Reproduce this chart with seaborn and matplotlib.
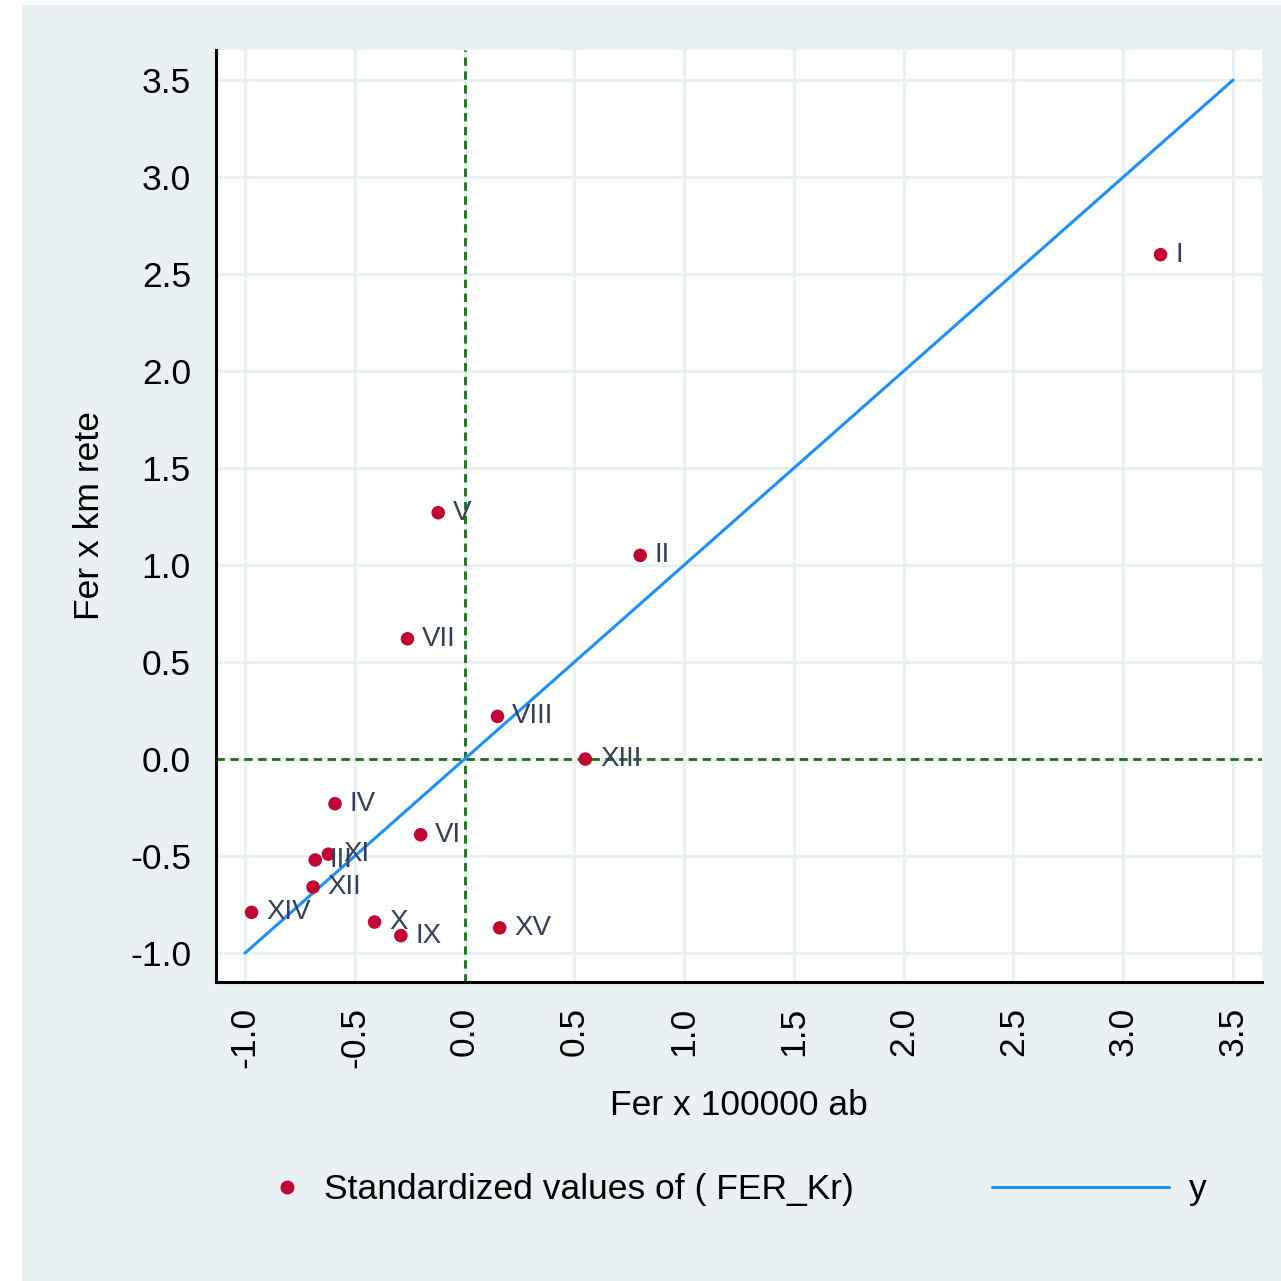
import pandas as pd
import matplotlib.pyplot as plt
import seaborn as sns
from matplotlib.patches import Rectangle
from matplotlib.lines import Line2D

# standardized values
labels = ["I", "II", "III", "IV", "V", "VI", "VII", "VIII", "IX", "X", "XI", "XII", "XIII", "XIV", "XV"]
fer_ab = [3.17, 0.80, -0.68, -0.59, -0.12, -0.20, -0.26, 0.15, -0.29, -0.41, -0.62, -0.69, 0.55, -0.97, 0.16]
fer_kr = [2.60, 1.05, -0.52, -0.23, 1.27, -0.39, 0.62, 0.22, -0.91, -0.84, -0.49, -0.66, 0.00, -0.79, -0.87]

line_x = [-1.0, 3.5]
line_y = [-1.0, 3.5]

ticks = [-1.0, -0.5, 0.0, 0.5, 1.0, 1.5, 2.0, 2.5, 3.0, 3.5]
tick_labels = ["-1.0", "-0.5", "0.0", "0.5", "1.0", "1.5", "2.0", "2.5", "3.0", "3.5"]

bg = "#EAF1F3"
red = "#C10534"
blue = "#1E8FFF"
green = "#1B6E1B"
label_col = "#33405A"

sns.set_style("white")
plt.rcParams["font.family"] = ["Liberation Sans", "DejaVu Sans"]
plt.rcParams["axes.unicode_minus"] = False
plt.rcParams["text.color"] = "black"
plt.rcParams["axes.labelcolor"] = "black"
plt.rcParams["xtick.color"] = "black"
plt.rcParams["ytick.color"] = "black"

df = pd.DataFrame({"Label": labels, "FER_ab": fer_ab, "FER_Kr": fer_kr})
line_df = pd.DataFrame({"x": line_x, "y": line_y})

fig = plt.figure(figsize=(12.81, 12.81), dpi=100, facecolor="white")
fig.patches.append(Rectangle((22 / 1281, 0), 1 - 22 / 1281, 1 - 5 / 1281,
                             transform=fig.transFigure, facecolor=bg, edgecolor="none", zorder=-10))
ax = fig.add_axes([216 / 1281, 1 - 982 / 1281, (1262 - 216) / 1281, (982 - 50) / 1281])
ax.set_facecolor("white")

ax.set_xlim(-1.132, 3.632)
ax.set_ylim(-1.149, 3.655)

ax.set_xticks(ticks)
ax.set_yticks(ticks)
ax.set_xticklabels(tick_labels, rotation=90, fontsize=25.5)
ax.set_yticklabels(tick_labels, fontsize=25.5)
ax.grid(True, color=bg, linewidth=2.2)
ax.set_axisbelow(True)

for s in ["top", "right"]:
    ax.spines[s].set_visible(False)
for s in ["left", "bottom"]:
    ax.spines[s].set_linewidth(2.2)
    ax.spines[s].set_color("black")
ax.tick_params(axis="both", direction="out", length=12, width=2.2, color="black", pad=6)

ax.axvline(0, color=green, linewidth=2, linestyle=(0, (3, 2)), zorder=1.5)
ax.axhline(0, color=green, linewidth=2, linestyle=(0, (3, 2)), zorder=1.5)

sns.lineplot(data=line_df, x="x", y="y", color=blue, linewidth=2.2, ax=ax, zorder=3)
sns.scatterplot(data=df, x="FER_ab", y="FER_Kr", color=red, s=95, edgecolor="none", ax=ax, zorder=4)

for lab, xv, yv in zip(labels, fer_ab, fer_kr):
    ax.annotate(lab, (xv, yv), xytext=(10.5, 0), textcoords="offset points",
                ha="left", va="center", fontsize=20, color=label_col, zorder=5)

ax.set_xlabel("Fer x 100000 ab", fontsize=25.5, labelpad=15)
ax.set_ylabel("Fer x km rete", fontsize=25.5, labelpad=17)

h1 = Line2D([], [], marker="o", linestyle="none", color=red, markersize=9)
h2 = Line2D([], [], color=blue, linewidth=2.2)
fig.legend([h1], ["Standardized values of ( FER_Kr)"], loc="center left",
           bbox_to_anchor=(269 / 1281, 1 - 1190 / 1281), frameon=False,
           fontsize=25.5, handlelength=1, handletextpad=0.55, borderpad=0, borderaxespad=0)
fig.legend([h2], ["y"], loc="center left", bbox_to_anchor=(992 / 1281, 1 - 1190 / 1281),
           frameon=False, fontsize=25.5, handlelength=5, handletextpad=0.55, borderpad=0, borderaxespad=0)

fig.savefig("out.png", dpi=100, facecolor=fig.get_facecolor())
